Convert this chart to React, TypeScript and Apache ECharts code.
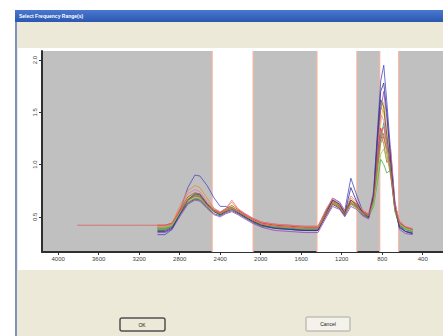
import React, { useEffect, useRef } from "react";
import * as echarts from "echarts";

// Shared wavenumber sampling (cm-1), descending
const wavenumbers = [3020, 2945, 2875, 2800, 2720, 2650, 2600, 2530, 2460, 2400, 2345, 2285, 2225, 2155, 2085, 1990, 1860, 1710, 1565, 1435, 1350, 1290, 1220, 1170, 1110, 1050, 995, 935, 885, 845, 815, 785, 755, 715, 675, 630, 570, 500];
const longLeadWavenumbers = [3810, 3600, 3400, 3200];
const longLeadValues = [0.42, 0.42, 0.42, 0.42];

const xTickLabels = [4000, 3600, 3200, 2800, 2400, 2000, 1600, 1200, 800, 400];
const yTickLabels = [0.5, 1.0, 1.5, 2.0];

// Selected (white) frequency ranges
const selectedRanges = [[2480, 2075], [1445, 1050], [825, 637]];

const s1 = [0.33, 0.33, 0.38, 0.55, 0.78, 0.90, 0.89, 0.80, 0.68, 0.60, 0.60, 0.58, 0.55, 0.50, 0.46, 0.42, 0.40, 0.38, 0.37, 0.37, 0.56, 0.68, 0.64, 0.56, 0.87, 0.70, 0.56, 0.50, 0.75, 1.35, 1.80, 1.95, 1.60, 1.10, 0.65, 0.42, 0.36, 0.34];
const s2 = [0.40, 0.40, 0.44, 0.60, 0.75, 0.80, 0.78, 0.68, 0.58, 0.54, 0.58, 0.64, 0.57, 0.52, 0.48, 0.44, 0.42, 0.41, 0.40, 0.40, 0.58, 0.67, 0.62, 0.55, 0.68, 0.62, 0.56, 0.52, 0.72, 1.20, 1.55, 1.50, 1.30, 0.98, 0.62, 0.46, 0.40, 0.38];
const s3 = [0.38, 0.38, 0.42, 0.56, 0.68, 0.72, 0.70, 0.62, 0.56, 0.53, 0.57, 0.60, 0.55, 0.51, 0.47, 0.43, 0.41, 0.40, 0.39, 0.39, 0.54, 0.64, 0.60, 0.53, 0.64, 0.60, 0.54, 0.51, 0.68, 1.05, 1.38, 1.60, 1.35, 1.00, 0.60, 0.44, 0.39, 0.37];
const s4 = [0.39, 0.39, 0.41, 0.52, 0.64, 0.68, 0.67, 0.60, 0.55, 0.52, 0.55, 0.58, 0.54, 0.50, 0.46, 0.42, 0.40, 0.39, 0.38, 0.38, 0.52, 0.62, 0.59, 0.52, 0.62, 0.58, 0.53, 0.50, 0.60, 0.85, 1.05, 1.00, 0.92, 0.95, 0.55, 0.42, 0.38, 0.36];
const s5 = [0.42, 0.42, 0.44, 0.56, 0.66, 0.70, 0.69, 0.62, 0.56, 0.54, 0.57, 0.59, 0.56, 0.52, 0.48, 0.44, 0.42, 0.41, 0.40, 0.40, 0.56, 0.65, 0.60, 0.54, 0.66, 0.62, 0.55, 0.52, 0.70, 1.12, 1.35, 1.25, 1.15, 1.10, 0.58, 0.44, 0.40, 0.38];
const s6 = [0.35, 0.35, 0.38, 0.50, 0.62, 0.66, 0.65, 0.58, 0.52, 0.50, 0.53, 0.55, 0.52, 0.48, 0.44, 0.40, 0.37, 0.36, 0.35, 0.35, 0.50, 0.60, 0.57, 0.50, 0.60, 0.57, 0.51, 0.48, 0.66, 1.15, 1.52, 1.70, 1.45, 1.05, 0.60, 0.38, 0.34, 0.33];
const s7 = [0.40, 0.40, 0.43, 0.57, 0.69, 0.73, 0.72, 0.63, 0.57, 0.54, 0.58, 0.61, 0.57, 0.53, 0.49, 0.45, 0.43, 0.42, 0.41, 0.41, 0.57, 0.66, 0.61, 0.55, 0.66, 0.61, 0.55, 0.52, 0.70, 1.08, 1.28, 1.20, 1.02, 1.05, 0.60, 0.45, 0.40, 0.38];
const s8 = [0.38, 0.38, 0.41, 0.54, 0.66, 0.70, 0.69, 0.61, 0.55, 0.52, 0.56, 0.59, 0.54, 0.50, 0.46, 0.42, 0.40, 0.39, 0.38, 0.38, 0.53, 0.63, 0.58, 0.52, 0.63, 0.59, 0.53, 0.50, 0.65, 0.98, 1.25, 1.40, 1.22, 0.90, 0.56, 0.42, 0.38, 0.36];
const s9 = [0.41, 0.41, 0.43, 0.58, 0.72, 0.76, 0.74, 0.65, 0.58, 0.55, 0.58, 0.66, 0.58, 0.53, 0.49, 0.45, 0.43, 0.42, 0.41, 0.41, 0.58, 0.68, 0.63, 0.56, 0.70, 0.64, 0.57, 0.53, 0.73, 1.18, 1.48, 1.42, 1.20, 1.15, 0.62, 0.46, 0.41, 0.39];
const s10 = [0.39, 0.39, 0.42, 0.55, 0.67, 0.71, 0.70, 0.62, 0.56, 0.53, 0.56, 0.59, 0.55, 0.51, 0.47, 0.43, 0.41, 0.40, 0.39, 0.39, 0.55, 0.64, 0.60, 0.53, 0.64, 0.60, 0.54, 0.51, 0.67, 1.00, 1.20, 1.30, 1.10, 0.88, 0.57, 0.43, 0.39, 0.37];
const s11 = [0.37, 0.37, 0.40, 0.52, 0.63, 0.67, 0.66, 0.59, 0.53, 0.51, 0.54, 0.56, 0.53, 0.49, 0.45, 0.41, 0.39, 0.38, 0.37, 0.37, 0.52, 0.62, 0.58, 0.51, 0.66, 0.60, 0.52, 0.49, 0.70, 1.25, 1.62, 1.55, 1.28, 0.95, 0.58, 0.40, 0.36, 0.35];
const s12 = [0.40, 0.40, 0.42, 0.54, 0.65, 0.69, 0.68, 0.61, 0.55, 0.53, 0.56, 0.58, 0.55, 0.51, 0.47, 0.43, 0.41, 0.40, 0.39, 0.39, 0.54, 0.63, 0.59, 0.53, 0.62, 0.58, 0.53, 0.51, 0.62, 0.90, 1.10, 1.15, 1.05, 1.00, 0.56, 0.43, 0.39, 0.37];
const s13 = [0.36, 0.36, 0.39, 0.52, 0.66, 0.72, 0.71, 0.62, 0.55, 0.52, 0.55, 0.57, 0.54, 0.50, 0.46, 0.42, 0.39, 0.38, 0.37, 0.37, 0.54, 0.66, 0.62, 0.53, 0.78, 0.64, 0.54, 0.50, 0.72, 1.30, 1.70, 1.78, 1.50, 1.02, 0.60, 0.40, 0.36, 0.34];
const s14 = [0.42, 0.42, 0.44, 0.55, 0.66, 0.70, 0.69, 0.61, 0.56, 0.53, 0.56, 0.58, 0.55, 0.51, 0.47, 0.43, 0.41, 0.40, 0.39, 0.39, 0.53, 0.63, 0.59, 0.53, 0.63, 0.59, 0.54, 0.51, 0.66, 1.02, 1.30, 1.36, 1.18, 0.90, 0.58, 0.44, 0.40, 0.38];

const spectra = [
  { name: "S1", color: "#4848c8", values: s1 },
  { name: "S2", color: "#f08a30", values: s2 },
  { name: "S3", color: "#e6d020", values: s3 },
  { name: "S4", color: "#40b040", values: s4 },
  { name: "S5", color: "#e03030", values: s5 },
  { name: "S6", color: "#9444c4", values: s6 },
  { name: "S7", color: "#a06030", values: s7 },
  { name: "S8", color: "#20a0a0", values: s8 },
  { name: "S9", color: "#e878a8", values: s9 },
  { name: "S10", color: "#909020", values: s10 },
  { name: "S11", color: "#505050", values: s11 },
  { name: "S12", color: "#98d040", values: s12 },
  { name: "S13", color: "#303090", values: s13 },
];

export default function App() {
  const ref = useRef<HTMLDivElement>(null);
  useEffect(() => {
    if (!ref.current) return;
    const chart = echarts.init(ref.current, null, { renderer: "svg" });
    // thin edge strips (about 1px wide) on both sides of every selected range
    const edgeWidth = 12;
    const edgeStrips: any[] = [];
    selectedRanges.forEach((r) => {
      edgeStrips.push([{ xAxis: r[0] + edgeWidth / 2 }, { xAxis: r[0] - edgeWidth / 2 }]);
      edgeStrips.push([{ xAxis: r[1] + edgeWidth / 2 }, { xAxis: r[1] - edgeWidth / 2 }]);
    });
    const series: any[] = [
      {
        type: "line",
        name: "ranges",
        data: [],
        silent: true,
        z: 1,
        markArea: {
          silent: true,
          itemStyle: { color: "#ffffff", borderWidth: 0 },
          data: selectedRanges.map((r) => [{ xAxis: r[0] }, { xAxis: r[1] }]),
        },
      },
      {
        type: "line",
        name: "edges",
        data: [],
        silent: true,
        z: 2,
        markArea: {
          silent: true,
          itemStyle: { color: "#f2b4a0", borderWidth: 0 },
          data: edgeStrips,
        },
      },
    ];
    spectra.forEach((s) => {
      series.push({
        type: "line",
        name: s.name,
        data: wavenumbers.map((w, i) => [w, s.values[i]]),
        showSymbol: false,
        smooth: false,
        z: 3,
        lineStyle: { width: 0.8, color: s.color },
        itemStyle: { color: s.color },
      });
    });
    series.push({
      type: "line",
      name: "S14",
      data: longLeadWavenumbers
        .map((w, i) => [w, longLeadValues[i]])
        .concat(wavenumbers.map((w, i) => [w, s14[i]])),
      showSymbol: false,
      z: 3,
      lineStyle: { width: 0.8, color: "#e05a5a" },
    });

    chart.setOption({
      animation: false,
      backgroundColor: "#ffffff",
      graphic: [
        { type: "rect", shape: { x: 15, y: 10, width: 428, height: 326 }, style: { fill: "#ece9d8" }, z: -10 },
        { type: "rect", shape: { x: 15, y: 10, width: 2, height: 326 }, style: { fill: "#7d92c4" }, z: -9 },
        {
          type: "rect",
          shape: { x: 15, y: 10, width: 428, height: 12 },
          style: {
            fill: new echarts.graphic.LinearGradient(0, 0, 0, 1, [
              { offset: 0, color: "#4a78d0" },
              { offset: 1, color: "#2a58b0" },
            ]),
          },
          z: -9,
        },
        {
          type: "text",
          x: 19,
          y: 16,
          style: { text: "Select Frequency Range(s)", fill: "#ffffff", font: "bold 5px Arial", verticalAlign: "middle" },
          z: -8,
        },
        { type: "rect", shape: { x: 18, y: 48, width: 425, height: 222 }, style: { fill: "#ffffff" }, z: -9 },
        {
          type: "rect",
          shape: { x: 120, y: 318, width: 45, height: 13, r: 2 },
          style: { fill: "#ece9d8", stroke: "#505050", lineWidth: 1.5 },
          z: 5,
        },
        { type: "text", x: 142, y: 324.5, style: { text: "OK", fill: "#202020", font: "5px Arial", align: "center", verticalAlign: "middle" }, z: 6 },
        {
          type: "rect",
          shape: { x: 306, y: 317, width: 44, height: 14, r: 1 },
          style: { fill: "#f4f2ea", stroke: "#a8a8a0", lineWidth: 1 },
          z: 5,
        },
        { type: "text", x: 328, y: 324, style: { text: "Cancel", fill: "#202020", font: "5px Arial", align: "center", verticalAlign: "middle" }, z: 6 },
      ],
      grid: {
        left: 42,
        top: 51,
        right: 0,
        bottom: 84,
        show: true,
        backgroundColor: "#c0c0c0",
        borderWidth: 0,
      },
      xAxis: {
        type: "value",
        inverse: true,
        min: 200,
        max: 4160,
        axisLine: { show: true, lineStyle: { color: "#303030", width: 2 } },
        axisTick: { show: true, customValues: xTickLabels, length: 3, lineStyle: { color: "#303030" } },
        axisLabel: {
          customValues: xTickLabels,
          fontSize: 6,
          color: "#404040",
          margin: 4,
          fontFamily: "Arial",
          formatter: (v: number) => String(v),
        },
        splitLine: { show: false },
      },
      yAxis: {
        type: "value",
        min: 0.164,
        max: 2.086,
        axisLine: { show: true, lineStyle: { color: "#303030", width: 2 } },
        axisTick: { show: true, customValues: yTickLabels, length: 3, lineStyle: { color: "#303030" } },
        axisLabel: {
          customValues: yTickLabels,
          fontSize: 6,
          color: "#404040",
          rotate: 90,
          margin: 4,
          fontFamily: "Arial",
          formatter: (v: number) => v.toFixed(1),
        },
        splitLine: { show: false },
      },
      series,
    });
    return () => chart.dispose();
  }, []);
  return <div ref={ref} style={{ position: "fixed", left: 0, top: 0, width: 443, height: 336 }} />;
}
